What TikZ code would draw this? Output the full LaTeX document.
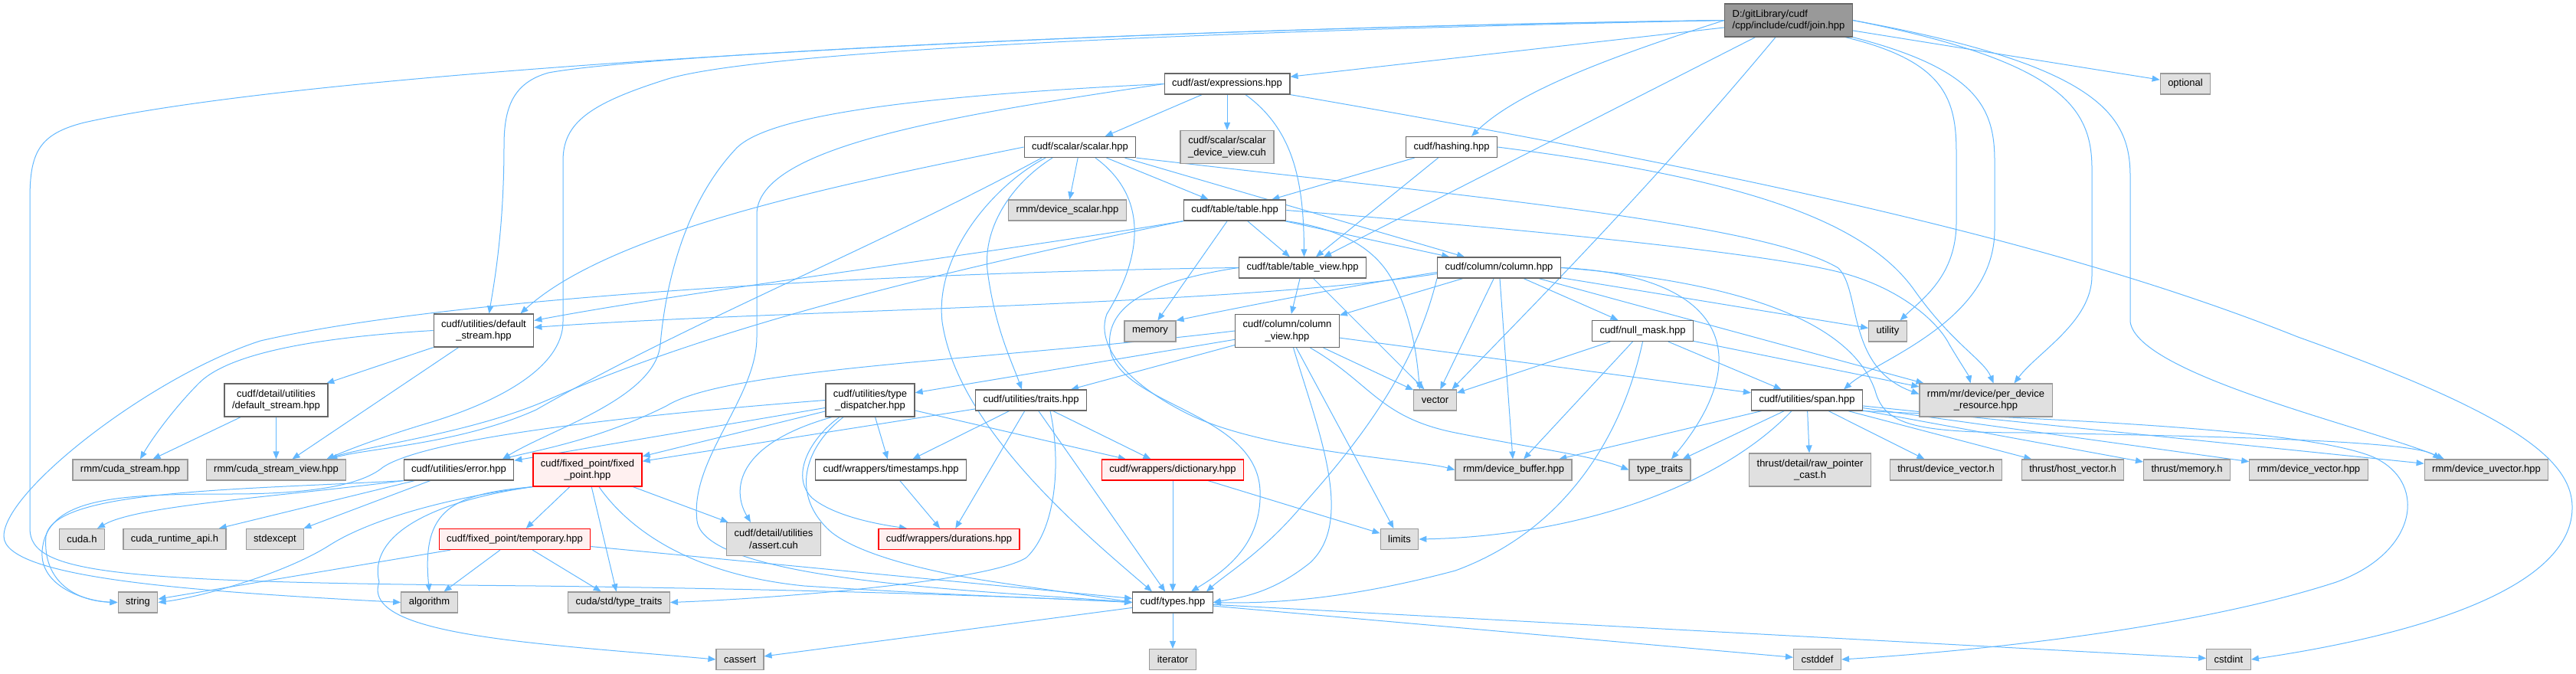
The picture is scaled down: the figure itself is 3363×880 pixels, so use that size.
\documentclass[tikz,border=0pt]{standalone}
\usepackage{fontspec}
\setmainfont{Liberation Sans}
\usetikzlibrary{arrows.meta}
\definecolor{EdgeBlue}{HTML}{63B8FF}
\definecolor{DocLine}{HTML}{666666}
\definecolor{ExtLine}{HTML}{999999}
\definecolor{ExtFill}{HTML}{E0E0E0}
\definecolor{RootFill}{HTML}{999999}
\definecolor{CutLine}{HTML}{FF0000}
\definecolor{CutFill}{HTML}{FFF0F0}
\pgfdeclarelayer{edges}
\pgfsetlayers{edges,main}
\tikzset{
 hdr/.style={draw=DocLine, fill=white, line width=1.2pt, inner xsep=10pt, inner ysep=2pt, minimum height=27pt, align=center, font=\fontsize{13}{15.7}\selectfont},
 syshdr/.style={hdr, draw=ExtLine, fill=ExtFill},
 cuthdr/.style={hdr, draw=CutLine, fill=CutFill},
 roothdr/.style={hdr, fill=RootFill, align=left, minimum height=43pt},
 tall/.style={minimum height=43pt},
 incl/.style={draw=EdgeBlue, line width=1pt, -{Triangle[length=10pt,width=8pt]}}
}

\begin{document}
\begin{tikzpicture}[x=1pt,y=-1pt]
\useasboundingbox (0,0) rectangle (3363,880);

\node[roothdr] (root) at (2335,26.5) {D:/gitLibrary/cudf\\/cpp/include/cudf/join.hpp};
\node[syshdr] (optional) at (2853,109.5) {optional};
\node[hdr] (expr) at (1602,109.5) {cudf/ast/expressions.hpp};
\node[hdr] (scalar) at (1410,192) {cudf/scalar/scalar.hpp};
\node[syshdr,tall] (sdv) at (1602,192) {cudf/scalar/scalar\\\_device\_view.cuh};
\node[hdr] (hashing) at (1895,192) {cudf/hashing.hpp};
\node[syshdr] (dscalar) at (1393.5,274.5) {rmm/device\_scalar.hpp};
\node[hdr] (table) at (1612,274.5) {cudf/table/table.hpp};
\node[hdr] (tview) at (1700.5,349.5) {cudf/table/table\_view.hpp};
\node[hdr] (column) at (1957,349.5) {cudf/column/column.hpp};
\node[hdr,tall] (dstream) at (631.5,431.5) {cudf/utilities/default\\\_stream.hpp};
\node[syshdr] (memory) at (1501.5,432.5) {memory};
\node[hdr,tall] (cview) at (1680.5,432) {cudf/column/column\\\_view.hpp};
\node[hdr] (nullmask) at (2144.5,432) {cudf/null\_mask.hpp};
\node[syshdr] (utility) at (2464.5,432.5) {utility};
\node[hdr,tall] (ddstream) at (360.5,522.5) {cudf/detail/utilities\\/default\_stream.hpp};
\node[hdr,tall] (tdisp) at (1136,522.5) {cudf/utilities/type\\\_dispatcher.hpp};
\node[hdr] (traits) at (1346,522.5) {cudf/utilities/traits.hpp};
\node[syshdr] (vector) at (1873.5,522.5) {vector};
\node[hdr] (span) at (2359,522.5) {cudf/utilities/span.hpp};
\node[syshdr,tall] (pdr) at (2592.5,522.5) {rmm/mr/device/per\_device\\\_resource.hpp};
\node[syshdr] (cstream) at (170,613.5) {rmm/cuda\_stream.hpp};
\node[syshdr] (csview) at (360.5,613.5) {rmm/cuda\_stream\_view.hpp};
\node[hdr] (error) at (599,613.5) {cudf/utilities/error.hpp};
\node[cuthdr,tall] (fixedpt) at (767,613.5) {cudf/fixed\_point/fixed\\\_point.hpp};
\node[hdr] (tstamps) at (1163,613.5) {cudf/wrappers/timestamps.hpp};
\node[cuthdr] (dict) at (1531,613.5) {cudf/wrappers/dictionary.hpp};
\node[syshdr] (dbuffer) at (1976,613.5) {rmm/device\_buffer.hpp};
\node[syshdr] (ttraits) at (2167,613.5) {type\_traits};
\node[syshdr,tall] (rawptr) at (2363,613.5) {thrust/detail/raw\_pointer\\\_cast.h};
\node[syshdr] (dvech) at (2540.5,613.5) {thrust/device\_vector.h};
\node[syshdr] (hvech) at (2706,613.5) {thrust/host\_vector.h};
\node[syshdr] (tmem) at (2855,613.5) {thrust/memory.h};
\node[syshdr] (dvecpp) at (3014,613.5) {rmm/device\_vector.hpp};
\node[syshdr] (duvec) at (3246,613.5) {rmm/device\_uvector.hpp};
\node[syshdr] (cudah) at (107,704) {cuda.h};
\node[syshdr] (cudart) at (228,704) {cuda\_runtime\_api.h};
\node[syshdr] (stdexcept) at (359,704) {stdexcept};
\node[cuthdr] (temporary) at (672,704) {cudf/fixed\_point/temporary.hpp};
\node[syshdr,tall] (assert) at (1010,704) {cudf/detail/utilities\\/assert.cuh};
\node[cuthdr] (durations) at (1239,704) {cudf/wrappers/durations.hpp};
\node[syshdr] (limits) at (1827,704) {limits};
\node[syshdr] (string) at (180,786.5) {string};
\node[syshdr] (algorithm) at (560.5,786.5) {algorithm};
\node[syshdr] (cstdtraits) at (808,786.5) {cuda/std/type\_traits};
\node[hdr] (types) at (1531,786.5) {cudf/types.hpp};
\node[syshdr] (cassert) at (966,861) {cassert};
\node[syshdr] (iterator) at (1531,861) {iterator};
\node[syshdr] (cstddef) at (2372.5,861) {cstddef};
\node[syshdr] (cstdint) at (2909.5,861) {cstdint};

\begin{pgfonlayer}{edges}
\draw[incl] (root) -- (optional);
\draw[incl] (root) -- (expr);
\draw[incl] (root.west) .. controls (2100,75) and (1980,120) .. ([xshift=26pt]hashing.north);
\draw[incl] (root) -- (tview);
\draw[incl] ([xshift=-17pt]root.south) .. controls (2150,250) and (2000,400) .. ([xshift=22pt]vector.north);
\draw[incl] (root.west) .. controls (1300,40) and (400,95) .. (110,160) .. controls (50,175) and (39,200) .. (39,260) -- (39,690) .. controls (39,750) and (150,760) .. (700,765) .. controls (1100,770) and (1350,780) .. (types.west);
\draw[incl] (root.west) .. controls (1600,35) and (850,70) .. (716,95) .. controls (670,108) and (658,140) .. (658,190) .. controls (658,300) and (645,370) .. ([xshift=7pt]dstream.north);
\draw[incl] (root.west) .. controls (1600,40) and (1000,65) .. (872,103) .. controls (770,135) and (735,160) .. (735,210) -- (735,420) .. controls (735,480) and (650,525) .. (560,552) .. controls (500,570) and (460,585) .. ([xshift=-26pt]csview.north east);
\draw[incl] ([xshift=-10pt]root.south east) .. controls (2540,80) and (2554,130) .. (2554,200) -- (2554,290) .. controls (2554,360) and (2510,390) .. ([xshift=16pt]utility.north);
\draw[incl] (root.south east) .. controls (2580,90) and (2604,140) .. (2604,210) -- (2604,300) .. controls (2604,420) and (2450,470) .. ([xshift=-25pt]span.north east);
\draw[incl] (root.east) .. controls (2690,80) and (2731,140) .. (2731,220) -- (2731,360) .. controls (2731,420) and (2660,460) .. ([xshift=37pt]pdr.north);
\draw[incl] (root.east) .. controls (2740,85) and (2781,150) .. (2781,230) -- (2781,420) .. controls (2790,490) and (3100,560) .. ([xshift=-55pt]duvec.north);

\draw[incl] (expr) -- (scalar);
\draw[incl] (expr) -- (sdv);
\draw[incl] ([xshift=24pt]expr.south) .. controls (1690,170) and (1702,240) .. ([xshift=2pt]tview.north);
\draw[incl] (expr.south east) .. controls (2300,230) and (2700,320) .. (3000,440) .. controls (3280,540) and (3360,600) .. (3358,665) .. controls (3355,770) and (3150,830) .. (cstdint.east);
\draw[incl] (expr.west) .. controls (1250,150) and (988,190) .. (988,280) -- (988,440) .. controls (988,520) and (900,600) .. (910,680) .. controls (920,760) and (1300,772) .. (types.west);
\draw[incl] (expr.west) .. controls (1200,125) and (1000,150) .. (960,195) .. controls (890,270) and (868,380) .. (862,450) .. controls (855,520) and (720,560) .. ([xshift=57pt]error.north);

\draw[incl] (scalar) -- (dscalar);
\draw[incl] (scalar) -- (table);
\draw[incl] ([xshift=-15pt]scalar.south east) -- ([xshift=-45pt]column.north);
\draw[incl] (scalar.south east) .. controls (1900,255) and (2300,290) .. (2400,350) .. controls (2430,380) and (2410,480) .. ([yshift=8pt]pdr.west);
\draw[incl] (scalar.west) .. controls (1100,240) and (800,300) .. ([xshift=48pt]dstream.north);
\draw[incl] ([xshift=-50pt]scalar.south) .. controls (1150,320) and (900,420) .. (700,535) .. controls (600,580) and (480,585) .. ([xshift=-22pt]csview.north east);
\draw[incl] ([xshift=-36pt]scalar.south) .. controls (1320,240) and (1280,300) .. (1290,360) .. controls (1300,430) and (1320,470) .. ([xshift=-12pt]traits.north);
\draw[incl] ([xshift=-45pt]scalar.south) .. controls (1300,240) and (1220,330) .. (1230,420) .. controls (1250,560) and (1420,700) .. ([xshift=-27pt]types.north);
\draw[incl] ([xshift=20pt]scalar.south) .. controls (1490,250) and (1500,320) .. (1445,410) .. controls (1430,450) and (1470,500) .. (1550,540) .. controls (1650,590) and (1850,600) .. (dbuffer.west);

\draw[incl] (hashing) -- (table);
\draw[incl] (hashing) -- (tview);
\draw[incl] (hashing.east) .. controls (2250,230) and (2430,280) .. (2500,380) .. controls (2550,450) and (2590,470) .. ([xshift=10pt]pdr.north);

\draw[incl] (table) -- (tview);
\draw[incl] (table) -- (column);
\draw[incl] (table) -- (memory);
\draw[incl] (table.south east) .. controls (1760,300) and (1800,330) .. (1820,370) .. controls (1845,420) and (1850,470) .. ([xshift=-20pt]vector.north);
\draw[incl] (table.south west) .. controls (1300,330) and (900,380) .. ([yshift=13pt]dstream.east);
\draw[incl] (table.south west) .. controls (1250,350) and (950,420) .. (720,520) .. controls (620,565) and (480,582) .. ([xshift=-26pt]csview.north east);
\draw[incl] (table.east) .. controls (2000,300) and (2300,330) .. (2400,355) .. controls (2480,375) and (2530,420) .. (2545,450) .. controls (2560,475) and (2570,490) .. ([xshift=-20pt]pdr.north);

\draw[incl] (tview) -- (cview);
\draw[incl] (tview) -- (vector);
\draw[incl] (tview.west) .. controls (1200,355) and (600,385) .. (340,445) .. controls (200,490) and (5,640) .. (5,700) .. controls (5,755) and (250,772) .. (algorithm.west);
\draw[incl] (tview.west) .. controls (1480,370) and (1440,410) .. (1450,460) .. controls (1470,530) and (1640,540) .. (1645,640) .. controls (1648,710) and (1600,745) .. ([xshift=24pt]types.north);

\draw[incl] (column) -- (cview);
\draw[incl] (column) -- (nullmask);
\draw[incl] ([yshift=-6pt]column.west) .. controls (1750,375) and (1600,405) .. (memory.north east);
\draw[incl] (column) -- (vector);
\draw[incl] (column) -- (dbuffer);
\draw[incl] ([yshift=-8pt]column.west) .. controls (1600,400) and (1000,405) .. ([yshift=4pt]dstream.east);
\draw[incl] (column.south west) .. controls (1850,470) and (1790,560) .. (1700,660) .. controls (1650,720) and (1600,750) .. ([xshift=44pt]types.north);
\draw[incl] (column) -- (utility);
\draw[incl] (column) -- (pdr);
\draw[incl] (column.east) .. controls (2260,360) and (2290,470) .. ([xshift=15pt]ttraits.north);
\draw[incl] (column.east) .. controls (2300,370) and (2420,430) .. (2448,510) .. controls (2460,555) and (2500,565) .. (2650,565) .. controls (2900,570) and (3150,575) .. ([xshift=-60pt]duvec.north);

\draw[incl] (cview) -- (tdisp);
\draw[incl] (cview) -- (traits);
\draw[incl] (cview) -- (vector);
\draw[incl] (cview) -- (limits);
\draw[incl] (cview) -- (span);
\draw[incl] ([xshift=30pt]cview.south) .. controls (1790,500) and (1800,545) .. (1900,565) .. controls (2000,585) and (2080,595) .. (ttraits.west);
\draw[incl] ([xshift=8pt]cview.south) .. controls (1720,560) and (1770,680) .. (1710,735) .. controls (1660,775) and (1620,780) .. (types.east);
\draw[incl] (cview.west) .. controls (1300,470) and (950,480) .. (870,530) .. controls (780,575) and (700,588) .. ([xshift=57pt]error.north);

\draw[incl] (nullmask) -- (vector);
\draw[incl] (nullmask) -- (dbuffer);
\draw[incl] (nullmask) -- (span);
\draw[incl] (nullmask) -- (pdr);
\draw[incl] (nullmask.south) .. controls (2120,560) and (2050,690) .. (1900,745) .. controls (1750,785) and (1650,788) .. (types.east);

\draw[incl] (dstream) -- (ddstream);
\draw[incl] (dstream) -- (csview);
\draw[incl] (dstream.west) .. controls (420,440) and (300,460) .. (260,500) .. controls (230,530) and (200,570) .. ([xshift=13pt]cstream.north);
\draw[incl] (ddstream) -- (cstream);
\draw[incl] (ddstream) -- (csview);

\draw[incl] (tdisp) -- (error);
\draw[incl] (tdisp) -- (fixedpt);
\draw[incl] (tdisp) -- (tstamps);
\draw[incl] (tdisp) -- (dict);
\draw[incl] ([xshift=-40pt]tdisp.south) .. controls (1060,570) and (1030,620) .. (1060,650) .. controls (1090,675) and (1150,685) .. ([xshift=-55pt]durations.north);
\draw[incl] ([xshift=-50pt]tdisp.south) .. controls (960,580) and (955,640) .. ([xshift=-30pt]assert.north);
\draw[incl] ([xshift=-35pt]tdisp.south) .. controls (1055,580) and (1030,640) .. (1080,690) .. controls (1110,720) and (1200,745) .. (1300,760) .. controls (1380,772) and (1440,780) .. (types.west);
\draw[incl] (tdisp.west) .. controls (850,540) and (560,570) .. (500,610) .. controls (470,635) and (400,645) .. (300,645) .. controls (150,645) and (60,650) .. (55,720) .. controls (52,765) and (110,785) .. (string.west);

\draw[incl] (traits) -- (fixedpt);
\draw[incl] (traits) -- (tstamps);
\draw[incl] (traits) -- (durations);
\draw[incl] (traits) -- (dict);
\draw[incl] (traits) -- (types);
\draw[incl] ([xshift=25pt]traits.south) .. controls (1385,600) and (1380,690) .. (1340,728) .. controls (1290,760) and (1000,782) .. (cstdtraits.east);

\draw[incl] (fixedpt) -- (temporary);
\draw[incl] (fixedpt) -- (assert);
\draw[incl] (fixedpt) -- (cstdtraits);
\draw[incl] (fixedpt.south west) .. controls (590,645) and (550,665) .. (algorithm.north);
\draw[incl] (fixedpt.south west) .. controls (580,650) and (480,680) .. (430,712) .. controls (370,750) and (260,780) .. (string.east);
\draw[incl] (fixedpt.south west) .. controls (560,655) and (480,700) .. (495,760) .. controls (470,830) and (700,840) .. (cassert.west);
\draw[incl] ([xshift=15pt]fixedpt.south) .. controls (820,690) and (900,750) .. (1050,765) .. controls (1250,778) and (1400,782) .. (types.west);

\draw[incl] (temporary) -- (algorithm);
\draw[incl] (temporary) -- (cstdtraits);
\draw[incl] (temporary) -- (string);
\draw[incl] (temporary) -- (types);

\draw[incl] (tstamps) -- (durations);
\draw[incl] (dict) -- (types);
\draw[incl] (dict) -- (limits);

\draw[incl] (error.south west) .. controls (350,650) and (180,660) .. ([xshift=20pt]cudah.north);
\draw[incl] (error) -- (cudart);
\draw[incl] (error) -- (stdexcept);
\draw[incl] (error.south west) .. controls (300,640) and (70,640) .. (60,700) .. controls (55,760) and (100,785) .. (string.west);

\draw[incl] (types) -- (iterator);
\draw[incl] (types) -- (cassert);
\draw[incl] (types) -- (cstddef);
\draw[incl] (types) -- (cstdint);

\draw[incl] (span) -- (rawptr);
\draw[incl] (span) -- (dvech);
\draw[incl] (span) -- (hvech);
\draw[incl] (span) -- (tmem);
\draw[incl] (span) -- (dvecpp);
\draw[incl] (span) -- (duvec);
\draw[incl] (span) -- (dbuffer);
\draw[incl] (span) -- (ttraits);
\draw[incl] ([xshift=-20pt]span.south) .. controls (2240,640) and (2050,700) .. (limits.east);
\draw[incl] (span.south east) .. controls (2700,548) and (3000,560) .. (3094,595) .. controls (3170,625) and (3160,720) .. (3050,760) .. controls (2850,825) and (2550,852) .. (cstddef.east);
\end{pgfonlayer}
\end{tikzpicture}
\end{document}
